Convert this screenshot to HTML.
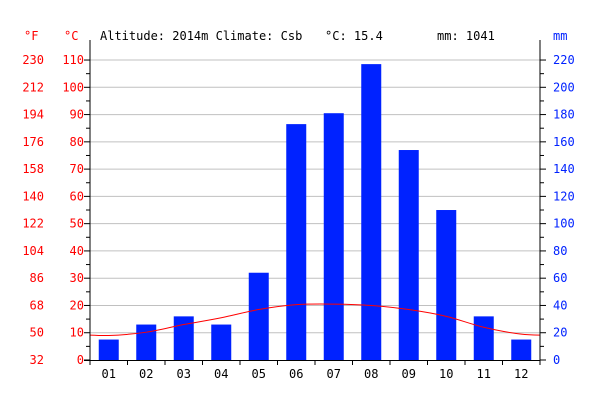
<!DOCTYPE html>
<html><head><meta charset="utf-8"><style>
body{margin:0;background:#fff}
svg{display:block}
text{font-family:"DejaVu Sans Mono","Liberation Mono",monospace;font-size:12px}
</style></head><body>
<svg id="chart" width="600" height="400" viewBox="0 0 600 400">
<g id="grid"></g>
<g id="bars"></g>
<path id="templine" fill="none" stroke="#ff0000" stroke-width="1"/>
<g id="axes"></g>
<text x="24" y="40" fill="#ff0000">°F</text>
<text x="64" y="40" fill="#ff0000">°C</text>
<text x="100" y="40" fill="#000">Altitude: 2014m Climate: Csb</text>
<text x="325" y="40" fill="#000">°C: 15.4</text>
<text x="437" y="40" fill="#000">mm: 1041</text>
<text x="553" y="40" fill="#0022ff">mm</text>
</svg>
<script>
const months=["01","02","03","04","05","06","07","08","09","10","11","12"];
const precip=[15,26,32,26,64,173,181,217,154,110,32,15];
const temps=[9,10.2,13,15.5,18.5,20.3,20.5,20,18.5,16,12,9.5];
const cTicks=[0,10,20,30,40,50,60,70,80,90,100,110];
const fTicks=[32,50,68,86,104,122,140,158,176,194,212,230];
const mmTicks=[0,20,40,60,80,100,120,140,160,180,200,220];
const NS="http://www.w3.org/2000/svg";
const X0=90,X1=540,Y0=360,PX10=27.27;
const yC=c=>Y0-c*PX10/10;
const yMM=m=>Y0-m*PX10/20;
const xM=i=>X0+(i+0.5)*(X1-X0)/12;
function mk(tag,attrs,parent){const e=document.createElementNS(NS,tag);for(const k in attrs)e.setAttribute(k,attrs[k]);parent.appendChild(e);return e;}
const grid=document.getElementById('grid'),bars=document.getElementById('bars'),axes=document.getElementById('axes');
cTicks.forEach((c,i)=>{
  const y=yC(c);
  if(c>0){const l=mk('line',{x1:X0,x2:X1,y1:y,y2:y,stroke:'#c0c0c0'},grid);
  
  }
  let t=mk('text',{x:84,y:y+4,fill:'#ff0000','text-anchor':'end'},axes);t.textContent=c;
  
  
  t=mk('text',{x:44,y:y+4,fill:'#ff0000','text-anchor':'end'},axes);t.textContent=fTicks[i];
  
  
  t=mk('text',{x:553,y:y+4,fill:'#0022ff'},axes);t.textContent=mmTicks[i];
  
  
  mk('line',{x1:X0-6,x2:X0,y1:y,y2:y,stroke:'#000'},axes);
  mk('line',{x1:X1,x2:X1+6,y1:y,y2:y,stroke:'#000'},axes);
  if(c<110){const ym=yC(c+5);
  mk('line',{x1:X0-4,x2:X0,y1:ym,y2:ym,stroke:'#000'},axes);
  mk('line',{x1:X1,x2:X1+4,y1:ym,y2:ym,stroke:'#000'},axes);}
});
mk('line',{x1:X0,x2:X0,y1:40,y2:Y0+0.5,stroke:'#000'},axes);
mk('line',{x1:X1,x2:X1,y1:40,y2:Y0+0.5,stroke:'#000'},axes);
mk('line',{x1:X0-6,x2:X1,y1:Y0+0.5,y2:Y0+0.5,stroke:'#000'},axes);
months.forEach((m,i)=>{
  const xb=X0+i*(X1-X0)/12;
  mk('line',{x1:xb,x2:xb,y1:Y0,y2:Y0+5,stroke:'#000'},axes);
  const r=mk('rect',{x:xM(i)-10,y:yMM(precip[i]),width:20,height:Y0-yMM(precip[i]),fill:'#0022ff'},bars);
  
  
  const t=mk('text',{x:xM(i),y:378,fill:'#000','text-anchor':'middle'},axes);t.textContent=m;
  
  
});
mk('line',{x1:X1,x2:X1,y1:Y0,y2:Y0+5,stroke:'#000'},axes);
// smooth temp line (catmull-rom with wrap-around)
const pts=[];
for(let i=-1;i<=12;i++){const k=(i+12)%12;pts.push([xM(i),yC(temps[k])]);}
let d='M'+pts[0][0]+','+pts[0][1];
for(let i=0;i<pts.length-1;i++){
  const p0=pts[Math.max(0,i-1)],p1=pts[i],p2=pts[i+1],p3=pts[Math.min(pts.length-1,i+2)];
  const c1=[p1[0]+(p2[0]-p0[0])/6,p1[1]+(p2[1]-p0[1])/6],c2=[p2[0]-(p3[0]-p1[0])/6,p2[1]-(p3[1]-p1[1])/6];
  d+=` C${c1[0]},${c1[1]} ${c2[0]},${c2[1]} ${p2[0]},${p2[1]}`;
}
const cp=mk('clipPath',{id:'clip'},document.getElementById('chart'));
mk('rect',{x:X0,y:40,width:X1-X0,height:Y0-40},cp);
const tl=document.getElementById('templine');tl.setAttribute('d',d);tl.setAttribute('clip-path','url(#clip)');
</script>
</body></html>
